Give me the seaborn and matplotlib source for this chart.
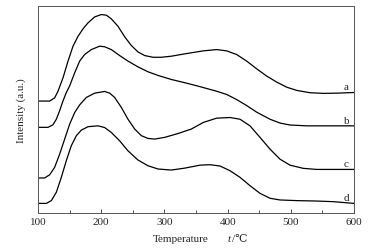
import pandas as pd
import matplotlib
matplotlib.use("Agg")
from matplotlib import pyplot as plt
from matplotlib.ticker import MultipleLocator
import seaborn as sns

# values (temperature in C, intensity in arbitrary units)
temp_a = [100, 118.5, 126.4, 131.6, 139.6, 147.5, 155.4, 163.3, 171.2, 179.1, 189.7, 200.2,
          208.1, 216.0, 226.6, 237.1, 247.7, 258.2, 268.8, 282.0, 295.1, 311.0, 332.1,
          361.6, 382.7, 398.5, 414.3, 430.2, 446.0, 461.8, 477.6, 493.5, 509.3, 530.4,
          551.5, 572.6, 600]
int_a = [52.4, 52.4, 53.9, 57.0, 63.3, 71.1, 78.1, 82.7, 86.2, 89.0, 91.8, 92.9,
         92.6, 90.9, 87.4, 82.5, 78.4, 75.4, 73.7, 72.9, 72.9, 73.4, 74.5,
         75.9, 76.5, 75.9, 74.2, 71.1, 67.5, 64.1, 61.3, 58.9, 57.4, 56.3,
         56.0, 56.1, 56.4]

temp_b = [100, 115.8, 123.7, 129.0, 134.3, 139.6, 144.8, 150.1, 158.0, 165.9, 173.8, 184.4,
          197.6, 205.5, 216.0, 229.2, 242.4, 258.2, 274.1, 289.9, 311.0, 332.1, 353.2,
          382.7, 398.5, 414.3, 430.2, 446.0, 467.1, 482.9, 498.7, 525.1, 551.5, 600]
int_b = [40.1, 40.1, 41.3, 43.9, 47.9, 52.5, 56.4, 59.5, 65.6, 71.1, 74.2, 76.5,
         78.1, 77.8, 76.5, 73.7, 71.1, 68.4, 66.1, 64.4, 62.5, 61.0, 59.4,
         57.0, 55.5, 53.1, 50.3, 47.2, 43.9, 42.1, 41.2, 40.8, 40.8, 40.8]

temp_c = [100, 110.5, 118.5, 126.4, 134.3, 142.2, 150.1, 158.0, 165.9, 176.5, 189.7, 205.5,
          213.4, 221.3, 231.9, 242.4, 253.0, 263.5, 274.1, 284.6, 300.4, 321.5, 342.6,
          361.6, 382.7, 403.8, 419.6, 435.4, 451.3, 467.1, 482.9, 498.7, 519.8, 540.9, 600]
int_c = [16.4, 16.4, 17.9, 21.4, 27.6, 34.6, 41.6, 47.0, 50.6, 54.1, 56.1, 56.9,
         56.1, 54.1, 49.4, 43.9, 39.3, 36.2, 34.9, 34.6, 35.4, 37.2, 39.3,
         42.4, 44.4, 44.7, 43.9, 40.8, 35.4, 29.9, 25.2, 22.4, 20.9, 20.4, 20.4]

temp_d = [100, 113.2, 121.1, 129.0, 136.9, 144.8, 152.7, 160.7, 168.6, 179.1, 194.9, 205.5,
          216.0, 229.2, 242.4, 258.2, 274.1, 289.9, 311.0, 332.1, 356.3, 372.2, 388.0,
          403.8, 419.6, 435.4, 451.3, 467.1, 482.9, 509.3, 540.9, 567.3, 600]
int_d = [4.5, 4.5, 5.8, 9.7, 16.7, 24.5, 31.5, 36.2, 38.8, 40.4, 40.8, 40.0,
         37.7, 33.8, 29.1, 24.8, 22.1, 20.6, 20.1, 21.0, 22.4, 22.6, 22.0,
         19.8, 16.7, 12.8, 9.2, 6.9, 6.1, 5.8, 5.6, 5.3, 4.5]

labels = ["a", "b", "c", "d"]
label_y = [59.1, 43.5, 23.2, 7.2]

df = pd.concat([
    pd.DataFrame({"T": temp_a, "I": int_a, "sample": "a"}),
    pd.DataFrame({"T": temp_b, "I": int_b, "sample": "b"}),
    pd.DataFrame({"T": temp_c, "I": int_c, "sample": "c"}),
    pd.DataFrame({"T": temp_d, "I": int_d, "sample": "d"}),
])

sns.set_style("ticks")
plt.rcParams["font.family"] = ["Liberation Serif", "DejaVu Serif"]

fig = plt.figure(figsize=(3.71, 2.53), dpi=100)
ax = fig.add_axes([38 / 371, 1 - 214 / 253, 316 / 371, 207 / 253])

sns.lineplot(data=df, x="T", y="I", units="sample", estimator=None, sort=False,
             color="black", linewidth=0.9, ax=ax, legend=False)
for ln in ax.lines:
    ln.set_solid_joinstyle("round")

for lab, yy in zip(labels, label_y):
    ax.text(588, yy, lab, ha="center", va="center", fontsize=8)

ax.set_xlim(100, 600)
ax.set_ylim(0, 96.9)
ax.xaxis.set_major_locator(MultipleLocator(100))
ax.xaxis.set_minor_locator(MultipleLocator(50))
ax.tick_params(axis="x", which="major", direction="in", length=3, width=0.6,
               labelsize=8, pad=3, color="#333333")
ax.tick_params(axis="x", which="minor", direction="in", length=2, width=0.6, color="#333333")
ax.set_yticks([])
for s in ax.spines.values():
    s.set_linewidth(0.7)
    s.set_color("#555555")

ax.set_xlabel("")
ax.set_ylabel("Intensity (a.u.)", fontsize=8, labelpad=9)

# x label pieces: "Temperature", italic t, "/℃"
fig.text(181 / 371, 1 - 240 / 253, "Temperature", fontsize=8, ha="center", va="center")
fig.text(229 / 371, 1 - 240 / 253, "t", fontsize=8, style="italic", ha="center", va="center")
fig.text(232 / 371, 1 - 240 / 253, "/\u2103", fontsize=8, ha="left", va="center")

plt.savefig("out.png", dpi=100)
